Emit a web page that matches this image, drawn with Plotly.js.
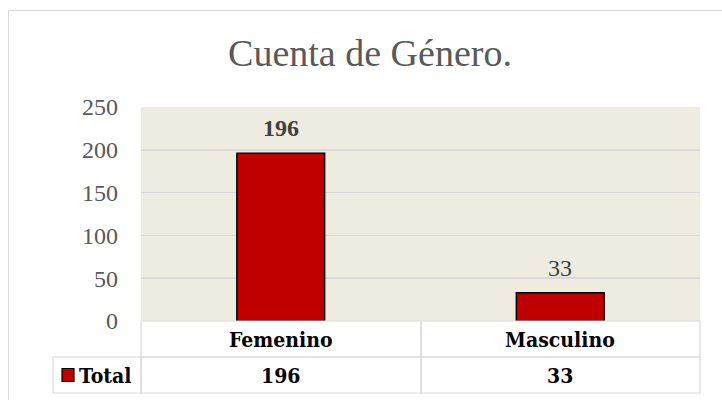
<!DOCTYPE html>
<html>
<head>
<meta charset="utf-8">
<script src="https://cdn.plot.ly/plotly-3.0.1.min.js"></script>
<style>html,body{margin:0;padding:0;background:#fff;}#chart{width:722px;height:400px;}</style>
</head>
<body>
<div id="chart"></div>
<script>
var categories = ['Femenino', 'Masculino'];
var values = [196, 33];
var seriesName = 'Total';
var labelBold = [true, false];
var chartTitle = 'Cuenta de Género.';

// layout geometry (pixels)
var W = 722, H = 400;
var L = 141, R = 700, T = 107, B = 321;
var PW = R - L, PH = B - T;
function px(x) { return (x - L) / PW; }
function py(y) { return (B - y) / PH; }

var gray = '#D9D9D9';
var tableFont = {family: 'DejaVu Serif Condensed', size: 21, color: '#000000', weight: 'bold'};

var shapes = [];
// outer chart border
shapes.push({type: 'rect', xref: 'paper', yref: 'paper', x0: px(8.5), x1: px(740), y0: py(410), y1: py(10.5),
  line: {color: gray, width: 1}, fillcolor: 'rgba(0,0,0,0)', layer: 'below'});
// header row cells
shapes.push({type: 'rect', xref: 'paper', yref: 'paper', x0: px(141), x1: px(421), y0: py(357), y1: py(321), line: {color: gray, width: 1.2}});
shapes.push({type: 'rect', xref: 'paper', yref: 'paper', x0: px(421), x1: px(700), y0: py(357), y1: py(321), line: {color: gray, width: 1.2}});
// total row cells
shapes.push({type: 'rect', xref: 'paper', yref: 'paper', x0: px(53), x1: px(141), y0: py(393), y1: py(357), line: {color: gray, width: 1.2}});
shapes.push({type: 'rect', xref: 'paper', yref: 'paper', x0: px(141), x1: px(421), y0: py(393), y1: py(357), line: {color: gray, width: 1.2}});
shapes.push({type: 'rect', xref: 'paper', yref: 'paper', x0: px(421), x1: px(700), y0: py(393), y1: py(357), line: {color: gray, width: 1.2}});
// legend key
shapes.push({type: 'rect', xref: 'paper', yref: 'paper', x0: px(62), x1: px(74), y0: py(381.5), y1: py(368.5),
  line: {color: '#000000', width: 1.2}, fillcolor: '#C00000'});

var annotations = [];
for (var i = 0; i < categories.length; i++) {
  // data labels
  annotations.push({x: categories[i], y: values[i], xref: 'x', yref: 'y',
    text: labelBold[i] ? '<b>' + values[i] + '</b>' : String(values[i]),
    showarrow: false, yanchor: 'middle', yshift: 25,
    font: {family: 'Liberation Serif', size: 24, color: '#404040'}});
  // header cell
  annotations.push({x: categories[i], y: py(339), xref: 'x', yref: 'paper', text: categories[i],
    showarrow: false, yanchor: 'middle', font: tableFont});
  // value cell
  annotations.push({x: categories[i], y: py(375), xref: 'x', yref: 'paper', text: String(values[i]),
    showarrow: false, yanchor: 'middle', font: tableFont});
}
annotations.push({x: px(77), y: py(375), xref: 'paper', yref: 'paper', text: seriesName,
  showarrow: false, xanchor: 'left', yanchor: 'middle', font: tableFont});

var trace = {
  type: 'bar', x: categories, y: values, name: seriesName,
  marker: {color: '#C00000', line: {color: '#000000', width: 1.5}},
  hoverinfo: 'x+y'
};

var layout = {
  width: W, height: H,
  margin: {l: L, r: W - R, t: T, b: H - B, pad: 0},
  paper_bgcolor: '#FFFFFF', plot_bgcolor: '#EEECE1',
  showlegend: false,
  bargap: 0.686,
  title: {text: chartTitle, x: 370 / W, xanchor: 'center', y: 1 - 53 / H, yanchor: 'middle', yref: 'container',
    font: {family: 'Liberation Serif', size: 38, color: '#595959'}},
  xaxis: {showticklabels: false, ticks: '', showgrid: false, zeroline: false, showline: false, fixedrange: true},
  yaxis: {range: [0, 250], dtick: 50, tick0: 0, showgrid: true, gridcolor: gray, gridwidth: 1.5,
    zeroline: false, showline: false, ticks: '', ticklabelstandoff: 22,
    tickfont: {family: 'Liberation Serif', size: 24, color: '#595959'}, fixedrange: true},
  shapes: shapes,
  annotations: annotations
};

Plotly.newPlot('chart', [trace], layout, {displayModeBar: false, staticPlot: true});
</script>
</body>
</html>
